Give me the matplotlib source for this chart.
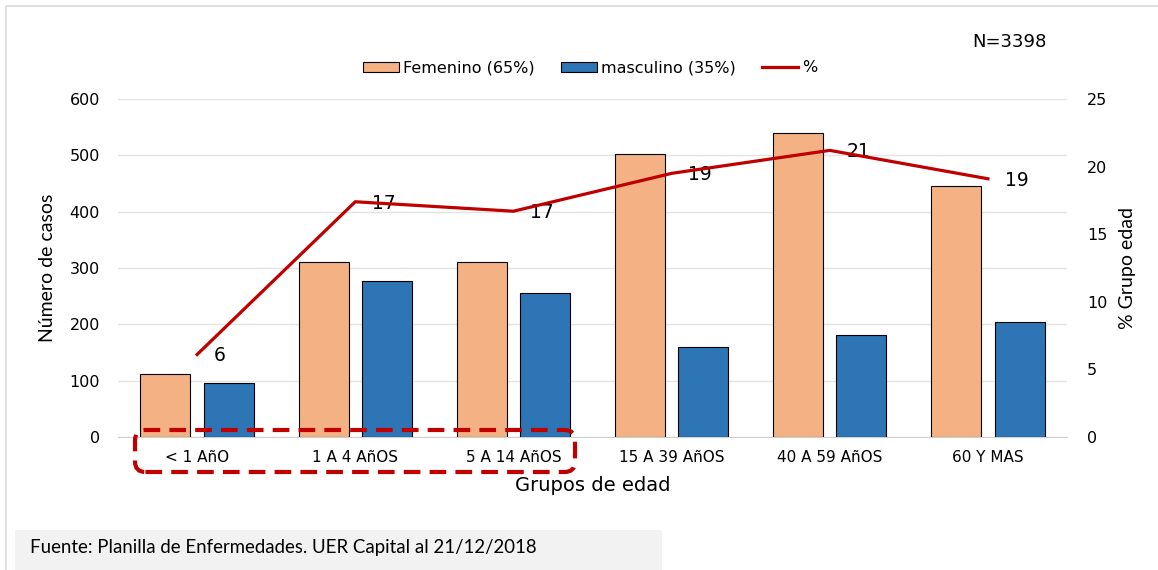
import matplotlib
matplotlib.use("Agg")
import matplotlib.pyplot as plt
from matplotlib.patches import FancyBboxPatch, Rectangle
import numpy as np

# data
grupos = ["< 1 AñO", "1 A 4 AñOS", "5 A 14 AñOS", "15 A 39 AñOS", "40 A 59 AñOS", "60 Y MAS"]
femenino = [112, 311, 311, 503, 539, 445]
masculino = [96, 277, 256, 159, 181, 204]
porcentaje = [6.1, 17.4, 16.7, 19.5, 21.2, 19.1]
etiquetas_pct = ["6", "17", "17", "19", "21", "19"]

col_fem = "#F4B183"
col_masc = "#2E75B6"
col_line = "#C00000"
tick_font = "DejaVu Sans"
title_font = "Lato"

fig = plt.figure(figsize=(11.58, 5.70), dpi=100)
ax = fig.add_axes([118 / 1158, 1 - 437 / 570, (1067 - 118) / 1158, (437 - 99) / 570])
ax2 = ax.twinx()

x = np.arange(len(grupos))
w = 0.316
ax.bar(x - 0.2, femenino, w, color=col_fem, edgecolor="black", linewidth=0.8,
       label="Femenino (65%)", zorder=3)
ax.bar(x + 0.2, masculino, w, color=col_masc, edgecolor="black", linewidth=0.8,
       label="masculino (35%)", zorder=3)

ax.set_xlim(-0.5, len(grupos) - 0.5)
ax.set_ylim(0, 600)
ax.set_yticks(range(0, 601, 100))
ax.grid(axis="y", color="#E3E3E3", linewidth=1, zorder=0)
ax.set_xticks(x)
ax.set_xticklabels(grupos, fontsize=11, family=tick_font)
for lab in ax.get_yticklabels():
    lab.set_family(tick_font)
    lab.set_fontsize(11.5)
ax.tick_params(axis="x", length=0, pad=9)
ax.tick_params(axis="y", length=0, pad=13)
for s in ["top", "right", "left"]:
    ax.spines[s].set_visible(False)
ax.spines["bottom"].set_color("#D0D0D0")
ax.set_ylabel("Número de casos", fontsize=14, family=title_font, labelpad=10)
ax.set_xlabel("Grupos de edad", fontsize=14, family=tick_font, labelpad=8)

ax2.plot(x, porcentaje, color=col_line, linewidth=2.3, label="%", zorder=4)
for xi, yi, t in zip(x, porcentaje, etiquetas_pct):
    ax2.annotate(t, (xi, yi), xytext=(12, -1), textcoords="offset points",
                 ha="left", va="center", fontsize=13.5, family=tick_font)
ax2.set_ylim(0, 25)
ax2.set_yticks(range(0, 26, 5))
for lab in ax2.get_yticklabels():
    lab.set_family(tick_font)
    lab.set_fontsize(11.5)
ax2.tick_params(axis="y", length=0, pad=14.5)
for s in ["top", "right", "left", "bottom"]:
    ax2.spines[s].set_visible(False)
ax2.set_ylabel("% Grupo edad", fontsize=14, family=title_font, labelpad=8)

h1, l1 = ax.get_legend_handles_labels()
h2, l2 = ax2.get_legend_handles_labels()
fig.legend(h1 + h2, l1 + l2, loc="center", bbox_to_anchor=(590 / 1158, 1 - 68 / 570),
           ncol=3, frameon=False, prop={"family": tick_font, "size": 11.5},
           handlelength=2.26, handleheight=0.6, columnspacing=1.65, handletextpad=0.25)

fig.text(1009 / 1158, 1 - 42 / 570, "N=3398", ha="center", va="center",
         fontsize=13, family=tick_font)

# dashed highlight around the first three age groups
box = FancyBboxPatch((135 / 1158, 1 - 472 / 570), (575 - 135) / 1158, (472 - 430) / 570,
                     boxstyle="round,pad=0,rounding_size=0.009", transform=fig.transFigure,
                     fill=False, edgecolor=col_line, linewidth=3, linestyle=(0, (4, 2.2)),
                     mutation_aspect=1158 / 570, zorder=10)
fig.patches.append(box)

# outer frame and source note
fig.patches.append(Rectangle((6 / 1158, -0.1), 1.2, 1 - 6 / 570 + 0.1, transform=fig.transFigure,
                             fill=False, edgecolor="#DADADA", linewidth=1.2))
fig.patches.append(Rectangle((15 / 1158, 0), (662 - 15) / 1158, 40 / 570, transform=fig.transFigure,
                             facecolor="#F2F2F2", edgecolor="none"))
fig.text(30 / 1158, 1 - 548 / 570, "Fuente: Planilla de Enfermedades. UER Capital al 21/12/2018",
         ha="left", va="center", fontsize=13.4, family=title_font)

fig.savefig("out.png", dpi=100)
